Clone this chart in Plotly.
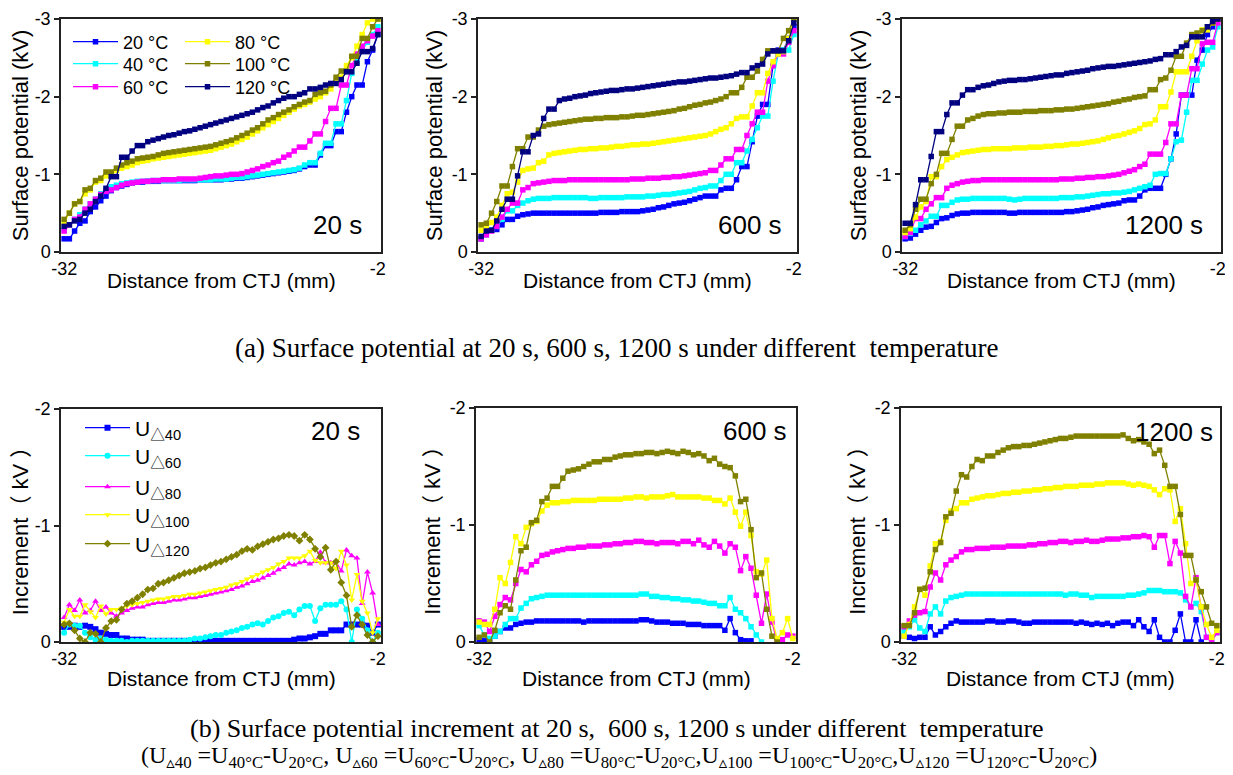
import plotly.graph_objects as go

# The page puts the figure 8 px from the top-left corner of the 1233x775 window.
W, H = 1233, 775
OFF = 8
FIG_W, FIG_H = W - OFF, H - OFF

# ---------------- data ----------------
DIST_MM = [-32.0, -31.5, -31.0, -30.5, -30.0, -29.5, -29.0, -28.5, -28.0, -27.5,
           -27.0, -26.5, -26.0, -25.5, -25.0, -24.5, -24.0, -23.5, -23.0, -22.5,
           -22.0, -21.5, -21.0, -20.5, -20.0, -19.5, -19.0, -18.5, -18.0, -17.5,
           -17.0, -16.5, -16.0, -15.5, -15.0, -14.5, -14.0, -13.5, -13.0, -12.5,
           -12.0, -11.5, -11.0, -10.5, -10.0, -9.5, -9.0, -8.5, -8.0, -7.5,
           -7.0, -6.5, -6.0, -5.5, -5.0, -4.5, -4.0, -3.5, -3.0, -2.5,
           -2.0]

TEMP_LABELS = ["20 °C", "40 °C", "60 °C", "80 °C", "100 °C", "120 °C"]
TIME_LABELS = ["20 s", "600 s", "1200 s"]
X_TICK_VALS = [-32, -2]
X_TICK_TEXT = ["-32", "-2"]
SP_TICK_VALS = [0, -1, -2, -3]
SP_TICK_TEXT = ["0", "-1", "-2", "-3"]
INC_TICK_VALS = [0, -1, -2]
INC_TICK_TEXT = ["0", "-1", "-2"]
INC_LABELS = ["U<sub>△40</sub>", "U<sub>△60</sub>", "U<sub>△80</sub>",
              "U<sub>△100</sub>", "U<sub>△120</sub>"]
X_TITLE = "Distance from CTJ (mm)"
SP_Y_TITLE = "Surface potential (kV)"
INC_Y_TITLE = "Increment（ kV ）"

# Surface potential (kV), 20 s
SP20_T20 = [-0.17, -0.17, -0.27, -0.37, -0.40, -0.52, -0.58, -0.66, -0.72, -0.79,
            -0.83, -0.85, -0.87, -0.89, -0.90, -0.90, -0.91, -0.91, -0.91, -0.92,
            -0.92, -0.92, -0.92, -0.92, -0.92, -0.92, -0.93, -0.93, -0.93, -0.93,
            -0.93, -0.94, -0.94, -0.95, -0.95, -0.96, -0.97, -0.98, -0.99, -1.00,
            -1.01, -1.02, -1.03, -1.04, -1.05, -1.07, -1.10, -1.12, -1.12, -1.25,
            -1.37, -1.37, -1.55, -1.55, -1.80, -2.00, -2.15, -2.15, -2.45, -2.60,
            -2.80]
SP20_T40 = [-0.28, -0.35, -0.42, -0.48, -0.55, -0.62, -0.68, -0.75, -0.80, -0.84,
            -0.86, -0.88, -0.89, -0.90, -0.91, -0.91, -0.91, -0.92, -0.92, -0.92,
            -0.92, -0.92, -0.92, -0.93, -0.93, -0.93, -0.93, -0.93, -0.93, -0.94,
            -0.94, -0.94, -0.95, -0.96, -0.96, -0.97, -0.98, -0.99, -1.00, -1.01,
            -1.02, -1.03, -1.04, -1.05, -1.06, -1.08, -1.12, -1.15, -1.15, -1.27,
            -1.40, -1.40, -1.65, -1.65, -1.95, -2.30, -2.45, -2.60, -2.70, -2.80,
            -2.90]
SP20_T60 = [-0.27, -0.35, -0.42, -0.45, -0.55, -0.62, -0.68, -0.74, -0.78, -0.80,
            -0.83, -0.86, -0.88, -0.89, -0.90, -0.91, -0.91, -0.92, -0.92, -0.93,
            -0.93, -0.93, -0.94, -0.94, -0.94, -0.94, -0.95, -0.96, -0.97, -0.98,
            -0.98, -0.99, -1.00, -1.00, -1.01, -1.03, -1.05, -1.07, -1.10, -1.12,
            -1.15, -1.17, -1.22, -1.25, -1.30, -1.35, -1.35, -1.43, -1.52, -1.52,
            -1.68, -1.85, -1.85, -2.15, -2.15, -2.40, -2.55, -2.65, -2.72, -2.78,
            -2.85]
SP20_T80 = [-0.38, -0.50, -0.62, -0.65, -0.75, -0.80, -0.90, -0.92, -0.98, -1.02,
            -1.05, -1.08, -1.10, -1.12, -1.15, -1.17, -1.18, -1.20, -1.21, -1.22,
            -1.23, -1.24, -1.25, -1.26, -1.27, -1.28, -1.29, -1.30, -1.31, -1.33,
            -1.35, -1.37, -1.39, -1.42, -1.45, -1.48, -1.52, -1.56, -1.60, -1.64,
            -1.68, -1.72, -1.76, -1.80, -1.84, -1.88, -1.90, -1.93, -1.97, -2.00,
            -2.05, -2.10, -2.18, -2.25, -2.40, -2.50, -2.65, -2.80, -2.95, -3.00,
            -3.00]
SP20_T100 = [-0.42, -0.50, -0.62, -0.65, -0.80, -0.82, -0.92, -0.95, -1.03, -1.03,
             -1.08, -1.12, -1.15, -1.17, -1.20, -1.21, -1.22, -1.23, -1.25, -1.27,
             -1.28, -1.29, -1.30, -1.31, -1.32, -1.33, -1.34, -1.35, -1.36, -1.38,
             -1.40, -1.42, -1.44, -1.47, -1.50, -1.53, -1.57, -1.60, -1.65, -1.70,
             -1.73, -1.77, -1.80, -1.83, -1.87, -1.90, -1.93, -1.95, -2.03, -2.05,
             -2.07, -2.15, -2.25, -2.33, -2.33, -2.52, -2.52, -2.75, -2.75, -2.90,
             -3.00]
SP20_T120 = [-0.33, -0.35, -0.40, -0.42, -0.50, -0.55, -0.65, -0.72, -0.82, -0.97,
             -0.97, -1.22, -1.22, -1.30, -1.37, -1.37, -1.42, -1.44, -1.46, -1.48,
             -1.50, -1.51, -1.53, -1.55, -1.56, -1.58, -1.60, -1.62, -1.64, -1.66,
             -1.68, -1.70, -1.72, -1.74, -1.76, -1.78, -1.80, -1.83, -1.86, -1.88,
             -1.92, -1.95, -1.98, -2.00, -2.00, -2.03, -2.05, -2.10, -2.10, -2.12,
             -2.15, -2.17, -2.17, -2.22, -2.32, -2.32, -2.43, -2.58, -2.58, -2.62,
             -2.80]

# Surface potential (kV), 600 s
SP600_T20 = [-0.17, -0.25, -0.28, -0.29, -0.35, -0.42, -0.42, -0.46, -0.48, -0.49,
             -0.50, -0.50, -0.50, -0.50, -0.50, -0.50, -0.50, -0.50, -0.50, -0.50,
             -0.50, -0.50, -0.50, -0.51, -0.51, -0.51, -0.51, -0.52, -0.52, -0.52,
             -0.52, -0.53, -0.54, -0.55, -0.57, -0.58, -0.60, -0.62, -0.63, -0.64,
             -0.66, -0.68, -0.70, -0.72, -0.72, -0.72, -0.80, -0.82, -0.82, -0.93,
             -1.10, -1.10, -1.42, -1.75, -1.90, -1.90, -2.40, -2.60, -2.60, -2.75,
             -2.90]
SP600_T40 = [-0.18, -0.22, -0.28, -0.33, -0.42, -0.53, -0.53, -0.60, -0.63, -0.66,
             -0.68, -0.69, -0.69, -0.69, -0.70, -0.70, -0.70, -0.70, -0.70, -0.70,
             -0.70, -0.69, -0.69, -0.70, -0.70, -0.70, -0.70, -0.70, -0.71, -0.71,
             -0.71, -0.71, -0.72, -0.72, -0.73, -0.74, -0.74, -0.75, -0.76, -0.77,
             -0.78, -0.80, -0.82, -0.83, -0.85, -0.85, -0.92, -1.00, -1.00, -1.15,
             -1.15, -1.30, -1.45, -1.60, -1.75, -1.75, -2.20, -2.55, -2.60, -2.60,
             -2.80]
SP600_T60 = [-0.17, -0.22, -0.27, -0.33, -0.45, -0.55, -0.63, -0.63, -0.80, -0.83,
             -0.88, -0.89, -0.90, -0.91, -0.92, -0.92, -0.92, -0.93, -0.93, -0.93,
             -0.93, -0.93, -0.93, -0.93, -0.93, -0.93, -0.93, -0.93, -0.93, -0.94,
             -0.94, -0.94, -0.95, -0.95, -0.95, -0.96, -0.96, -0.97, -0.97, -0.98,
             -0.99, -1.00, -1.01, -1.02, -1.05, -1.05, -1.12, -1.20, -1.20, -1.32,
             -1.32, -1.50, -1.65, -1.80, -1.80, -2.20, -2.40, -2.55, -2.55, -2.70,
             -2.85]
SP600_T80 = [-0.28, -0.33, -0.38, -0.45, -0.60, -0.75, -0.77, -0.90, -1.05, -1.07,
             -1.08, -1.15, -1.17, -1.25, -1.27, -1.28, -1.29, -1.30, -1.31, -1.32,
             -1.32, -1.33, -1.33, -1.34, -1.34, -1.35, -1.36, -1.36, -1.37, -1.38,
             -1.38, -1.39, -1.39, -1.40, -1.41, -1.42, -1.43, -1.44, -1.45, -1.46,
             -1.47, -1.48, -1.49, -1.50, -1.52, -1.55, -1.58, -1.60, -1.65, -1.72,
             -1.74, -1.74, -1.88, -2.05, -2.05, -2.30, -2.45, -2.55, -2.58, -2.75,
             -3.00]
SP600_T100 = [-0.35, -0.37, -0.50, -0.65, -0.85, -0.85, -1.10, -1.33, -1.33, -1.48,
              -1.48, -1.57, -1.62, -1.64, -1.65, -1.66, -1.67, -1.68, -1.69, -1.70,
              -1.71, -1.71, -1.72, -1.72, -1.73, -1.73, -1.73, -1.74, -1.74, -1.75,
              -1.76, -1.76, -1.77, -1.78, -1.79, -1.80, -1.81, -1.82, -1.84, -1.85,
              -1.87, -1.89, -1.90, -1.92, -1.93, -1.95, -1.97, -2.00, -2.05, -2.05,
              -2.12, -2.25, -2.25, -2.33, -2.48, -2.59, -2.59, -2.59, -2.75, -2.85,
              -3.00]
SP600_T120 = [-0.20, -0.27, -0.28, -0.40, -0.55, -0.68, -0.68, -0.98, -1.29, -1.29,
              -1.50, -1.52, -1.72, -1.84, -1.84, -1.95, -1.97, -1.98, -2.00, -2.01,
              -2.02, -2.04, -2.05, -2.06, -2.07, -2.08, -2.08, -2.09, -2.10, -2.10,
              -2.11, -2.12, -2.13, -2.14, -2.15, -2.16, -2.17, -2.18, -2.19, -2.19,
              -2.20, -2.21, -2.22, -2.23, -2.24, -2.24, -2.25, -2.26, -2.27, -2.29,
              -2.31, -2.31, -2.37, -2.40, -2.42, -2.55, -2.59, -2.59, -2.59, -2.72,
              -2.95]

# Surface potential (kV), 1200 s
SP1200_T20 = [-0.17, -0.18, -0.23, -0.28, -0.32, -0.33, -0.38, -0.43, -0.44, -0.47,
              -0.49, -0.50, -0.50, -0.51, -0.51, -0.51, -0.51, -0.51, -0.51, -0.51,
              -0.50, -0.50, -0.51, -0.51, -0.51, -0.51, -0.51, -0.51, -0.51, -0.51,
              -0.51, -0.52, -0.52, -0.53, -0.54, -0.55, -0.57, -0.58, -0.60, -0.61,
              -0.62, -0.63, -0.66, -0.67, -0.67, -0.72, -0.80, -0.82, -0.82, -0.82,
              -1.00, -1.20, -1.52, -2.02, -2.02, -2.02, -2.47, -2.60, -2.80, -2.90,
              -3.00]
SP1200_T40 = [-0.20, -0.24, -0.28, -0.35, -0.40, -0.46, -0.46, -0.60, -0.60, -0.64,
              -0.67, -0.68, -0.68, -0.69, -0.69, -0.69, -0.69, -0.69, -0.69, -0.69,
              -0.68, -0.67, -0.68, -0.69, -0.69, -0.69, -0.69, -0.69, -0.69, -0.69,
              -0.70, -0.70, -0.70, -0.71, -0.71, -0.72, -0.73, -0.74, -0.75, -0.75,
              -0.76, -0.76, -0.77, -0.78, -0.80, -0.82, -0.84, -0.86, -1.00, -1.01,
              -1.01, -1.20, -1.42, -1.44, -1.80, -2.21, -2.21, -2.42, -2.60, -2.64,
              -2.90]
SP1200_T60 = [-0.20, -0.25, -0.43, -0.43, -0.55, -0.62, -0.70, -0.70, -0.82, -0.86,
              -0.88, -0.90, -0.91, -0.92, -0.92, -0.93, -0.93, -0.93, -0.93, -0.93,
              -0.93, -0.93, -0.93, -0.93, -0.93, -0.93, -0.93, -0.93, -0.93, -0.93,
              -0.94, -0.94, -0.94, -0.95, -0.95, -0.96, -0.96, -0.97, -0.97, -0.98,
              -0.99, -1.00, -1.02, -1.04, -1.06, -1.10, -1.13, -1.26, -1.26, -1.26,
              -1.41, -1.65, -1.65, -2.02, -2.02, -2.36, -2.36, -2.68, -2.70, -2.70,
              -2.95]
SP1200_T80 = [-0.25, -0.30, -0.45, -0.58, -0.65, -0.97, -0.97, -1.10, -1.19, -1.22,
              -1.25, -1.28, -1.29, -1.30, -1.31, -1.32, -1.32, -1.33, -1.33, -1.33,
              -1.33, -1.34, -1.34, -1.34, -1.35, -1.35, -1.35, -1.36, -1.36, -1.37,
              -1.37, -1.38, -1.39, -1.39, -1.40, -1.41, -1.42, -1.43, -1.45, -1.47,
              -1.49, -1.50, -1.52, -1.54, -1.56, -1.59, -1.64, -1.65, -1.70, -1.87,
              -1.87, -2.06, -2.32, -2.32, -2.32, -2.52, -2.72, -2.86, -2.86, -2.95,
              -3.00]
SP1200_T100 = [-0.28, -0.35, -0.55, -0.68, -0.68, -0.88, -1.00, -1.27, -1.27, -1.45,
               -1.62, -1.62, -1.70, -1.72, -1.75, -1.77, -1.78, -1.78, -1.79, -1.79,
               -1.80, -1.80, -1.80, -1.81, -1.81, -1.81, -1.82, -1.82, -1.82, -1.83,
               -1.83, -1.84, -1.84, -1.85, -1.86, -1.87, -1.88, -1.89, -1.90, -1.91,
               -1.93, -1.94, -1.96, -1.97, -1.99, -2.00, -2.01, -2.09, -2.09, -2.22,
               -2.24, -2.34, -2.52, -2.52, -2.69, -2.80, -2.82, -2.85, -2.90, -2.95,
               -3.00]
SP1200_T120 = [-0.37, -0.37, -0.61, -0.93, -0.93, -1.23, -1.55, -1.55, -1.77, -1.92,
               -1.92, -2.02, -2.09, -2.09, -2.12, -2.14, -2.15, -2.17, -2.19, -2.20,
               -2.21, -2.21, -2.22, -2.22, -2.23, -2.24, -2.25, -2.26, -2.27, -2.28,
               -2.28, -2.30, -2.31, -2.32, -2.33, -2.34, -2.36, -2.37, -2.38, -2.39,
               -2.39, -2.40, -2.41, -2.42, -2.43, -2.44, -2.45, -2.46, -2.48, -2.49,
               -2.54, -2.54, -2.58, -2.64, -2.66, -2.77, -2.77, -2.77, -2.90, -2.97,
               -3.00]

# Increment (kV), 20 s
INC20_D40 = [-0.13, -0.13, -0.14, -0.13, -0.14, -0.13, -0.11, -0.08, -0.07, -0.06,
             -0.06, -0.03, -0.03, -0.02, -0.02, -0.02, -0.01, -0.01, -0.01, -0.01,
             -0.01, -0.01, -0.01, -0.01, 0.00, -0.01, -0.01, -0.01, -0.01, -0.01,
             -0.01, -0.01, -0.01, -0.01, -0.01, -0.01, -0.01, -0.01, -0.01, -0.01,
             -0.01, -0.01, -0.01, -0.01, -0.02, -0.03, -0.03, -0.04, -0.05, -0.07,
             -0.07, -0.10, -0.10, -0.10, -0.15, -0.15, -0.15, -0.15, -0.14, -0.08,
             -0.15]
INC20_D60 = [-0.08, -0.15, -0.14, -0.14, -0.08, -0.04, -0.02, -0.03, -0.02, -0.01,
             -0.01, -0.01, 0.00, -0.01, -0.01, -0.01, -0.01, -0.01, -0.01, -0.01,
             -0.01, -0.01, -0.01, -0.01, -0.02, -0.03, -0.03, -0.04, -0.05, -0.06,
             -0.06, -0.08, -0.09, -0.10, -0.12, -0.13, -0.15, -0.16, -0.15, -0.18,
             -0.21, -0.22, -0.25, -0.26, -0.23, -0.28, -0.31, -0.31, -0.18, -0.29,
             -0.32, -0.32, -0.32, -0.35, -0.28, 0.00, -0.28, -0.20, -0.10, 0.00,
             -0.08]
INC20_D80 = [-0.21, -0.32, -0.27, -0.36, -0.25, -0.27, -0.35, -0.27, -0.30, -0.25,
             -0.22, -0.25, -0.27, -0.29, -0.30, -0.30, -0.32, -0.33, -0.34, -0.34,
             -0.35, -0.36, -0.36, -0.37, -0.38, -0.38, -0.39, -0.40, -0.41, -0.42,
             -0.43, -0.44, -0.45, -0.47, -0.48, -0.50, -0.52, -0.53, -0.55, -0.57,
             -0.59, -0.62, -0.64, -0.67, -0.66, -0.68, -0.69, -0.67, -0.69, -0.77,
             -0.68, -0.68, -0.69, -0.61, -0.79, -0.74, -0.72, -0.33, -0.60, -0.42,
             -0.15]
INC20_D100 = [-0.17, -0.28, -0.22, -0.22, -0.32, -0.26, -0.21, -0.31, -0.24, -0.28,
              -0.28, -0.29, -0.31, -0.32, -0.33, -0.34, -0.35, -0.36, -0.37, -0.37,
              -0.38, -0.39, -0.39, -0.40, -0.41, -0.41, -0.42, -0.43, -0.44, -0.45,
              -0.46, -0.47, -0.49, -0.50, -0.52, -0.54, -0.56, -0.58, -0.60, -0.62,
              -0.64, -0.67, -0.69, -0.72, -0.72, -0.72, -0.74, -0.78, -0.70, -0.68,
              -0.68, -0.68, -0.63, -0.78, -0.66, -0.36, -0.58, -0.35, -0.25, -0.08,
              -0.20]
INC20_D120 = [-0.15, -0.16, -0.10, -0.03, 0.00, -0.08, -0.07, 0.00, -0.12, -0.18,
              -0.19, -0.28, -0.33, -0.35, -0.38, -0.41, -0.45, -0.46, -0.50, -0.51,
              -0.53, -0.55, -0.57, -0.59, -0.60, -0.61, -0.63, -0.64, -0.66, -0.68,
              -0.69, -0.71, -0.73, -0.75, -0.78, -0.80, -0.79, -0.82, -0.84, -0.86,
              -0.88, -0.89, -0.91, -0.92, -0.91, -0.87, -0.92, -0.88, -0.80, -0.73,
              -0.81, -0.62, -0.69, -0.51, -0.40, -0.13, -0.23, -0.15, -0.06, 0.00,
              -0.05]

# Increment (kV), 600 s
INC600_D40 = [-0.02, -0.01, -0.02, -0.05, -0.09, -0.12, -0.12, -0.15, -0.16, -0.17,
              -0.17, -0.18, -0.18, -0.18, -0.18, -0.18, -0.18, -0.18, -0.18, -0.18,
              -0.17, -0.18, -0.18, -0.18, -0.18, -0.18, -0.18, -0.18, -0.18, -0.18,
              -0.18, -0.19, -0.19, -0.18, -0.17, -0.17, -0.17, -0.16, -0.16, -0.16,
              -0.15, -0.15, -0.15, -0.14, -0.14, -0.14, -0.14, -0.10, -0.20, -0.08,
              -0.02, -0.01, -0.01, None, None, None, None, None, None, None,
              None]
INC600_D60 = [-0.14, -0.06, -0.03, -0.05, -0.09, -0.15, -0.20, -0.20, -0.29, -0.33,
              -0.37, -0.38, -0.39, -0.40, -0.40, -0.40, -0.40, -0.40, -0.40, -0.40,
              -0.40, -0.40, -0.40, -0.40, -0.40, -0.40, -0.40, -0.40, -0.40, -0.40,
              -0.40, -0.41, -0.41, -0.39, -0.39, -0.38, -0.38, -0.37, -0.37, -0.36,
              -0.36, -0.35, -0.35, -0.34, -0.33, -0.33, -0.31, -0.31, -0.38, -0.28,
              -0.25, -0.20, -0.13, -0.06, 0.00, None, None, None, None, None,
              None]
INC600_D80 = [-0.18, -0.17, -0.09, -0.22, -0.32, -0.38, -0.36, -0.50, -0.62, -0.60,
              -0.66, -0.69, -0.74, -0.75, -0.77, -0.78, -0.79, -0.80, -0.80, -0.81,
              -0.81, -0.82, -0.82, -0.82, -0.83, -0.83, -0.84, -0.84, -0.85, -0.85,
              -0.86, -0.86, -0.85, -0.85, -0.84, -0.85, -0.85, -0.85, -0.84, -0.86,
              -0.86, -0.84, -0.87, -0.83, -0.81, -0.86, -0.82, -0.76, -0.84, -0.81,
              -0.61, -0.73, -0.63, -0.40, -0.16, -0.41, -0.17, 0.00, -0.02, -0.06,
              -0.05]
INC600_D100 = [-0.17, -0.15, -0.15, -0.28, -0.55, -0.50, -0.68, -0.90, -0.84, -0.98,
               -1.01, -1.03, -1.12, -1.17, -1.19, -1.19, -1.20, -1.20, -1.21, -1.21,
               -1.21, -1.21, -1.21, -1.22, -1.22, -1.22, -1.22, -1.22, -1.23, -1.23,
               -1.24, -1.24, -1.23, -1.24, -1.24, -1.24, -1.25, -1.26, -1.24, -1.24,
               -1.24, -1.24, -1.24, -1.23, -1.23, -1.21, -1.21, -1.18, -1.23, -1.11,
               -0.99, -1.11, -0.91, -0.60, -0.58, -0.70, -0.20, -0.03, -0.08, -0.20,
               -0.03]
INC600_D120 = [-0.04, -0.06, 0.00, -0.10, -0.25, -0.31, -0.28, -0.53, -0.78, -0.81,
               -1.02, -1.04, -1.20, -1.23, -1.33, -1.33, -1.40, -1.46, -1.47, -1.48,
               -1.50, -1.52, -1.54, -1.54, -1.56, -1.56, -1.58, -1.59, -1.60, -1.60,
               -1.61, -1.61, -1.62, -1.62, -1.61, -1.62, -1.63, -1.62, -1.61, -1.63,
               -1.62, -1.60, -1.61, -1.59, -1.55, -1.57, -1.52, -1.50, -1.49, -1.42,
               -1.20, -1.22, -0.96, -0.55, -0.59, -0.28, -0.05, 0.00, None, None,
               None]

# Increment (kV), 1200 s
INC1200_D40 = [-0.05, -0.04, -0.03, -0.04, -0.04, -0.13, -0.06, -0.09, -0.13, -0.16,
               -0.18, -0.17, -0.17, -0.17, -0.17, -0.17, -0.18, -0.18, -0.17, -0.17,
               -0.18, -0.18, -0.17, -0.16, -0.16, -0.17, -0.17, -0.17, -0.17, -0.17,
               -0.17, -0.17, -0.17, -0.16, -0.17, -0.16, -0.15, -0.16, -0.15, -0.16,
               -0.14, -0.16, -0.17, -0.17, -0.14, -0.19, -0.13, -0.09, -0.19, -0.04,
               0.00, 0.00, -0.10, -0.24, 0.00, 0.00, -0.19, 0.00, None, None,
               None]
INC1200_D60 = [-0.09, -0.13, -0.19, -0.12, -0.09, -0.24, -0.30, -0.24, -0.35, -0.38,
               -0.39, -0.40, -0.41, -0.41, -0.41, -0.41, -0.41, -0.41, -0.41, -0.41,
               -0.41, -0.41, -0.41, -0.41, -0.41, -0.41, -0.41, -0.41, -0.41, -0.41,
               -0.41, -0.40, -0.41, -0.41, -0.40, -0.40, -0.38, -0.39, -0.39, -0.39,
               -0.39, -0.39, -0.39, -0.40, -0.40, -0.41, -0.42, -0.44, -0.44, -0.44,
               -0.43, -0.43, -0.43, -0.42, -0.36, -0.30, -0.33, -0.26, -0.04, 0.00,
               -0.08]
INC1200_D80 = [-0.13, -0.18, -0.23, -0.25, -0.26, -0.47, -0.59, -0.53, -0.66, -0.70,
               -0.73, -0.77, -0.79, -0.79, -0.80, -0.80, -0.80, -0.81, -0.81, -0.81,
               -0.82, -0.82, -0.82, -0.82, -0.83, -0.83, -0.84, -0.84, -0.85, -0.85,
               -0.86, -0.86, -0.85, -0.86, -0.86, -0.87, -0.86, -0.86, -0.87, -0.88,
               -0.88, -0.88, -0.89, -0.89, -0.90, -0.90, -0.91, -0.90, -0.81, -0.91,
               -0.91, -0.67, -0.86, -0.76, -0.39, -0.30, -0.55, -0.30, -0.04, 0.00,
               -0.08]
INC1200_D100 = [-0.05, -0.15, -0.30, -0.45, -0.40, -0.65, -0.84, -0.86, -1.04, -1.12,
                -1.14, -1.19, -1.19, -1.22, -1.23, -1.24, -1.25, -1.25, -1.26, -1.27,
                -1.27, -1.28, -1.28, -1.29, -1.29, -1.30, -1.30, -1.31, -1.31, -1.32,
                -1.32, -1.33, -1.33, -1.33, -1.34, -1.34, -1.34, -1.35, -1.35, -1.36,
                -1.36, -1.36, -1.36, -1.35, -1.34, -1.35, -1.34, -1.33, -1.30, -1.26,
                -1.31, -1.30, -1.03, -1.14, -0.84, -0.50, -0.53, -0.30, -0.15, -0.04,
                -0.10]
INC1200_D120 = [-0.14, -0.14, -0.25, -0.45, -0.46, -0.60, -0.79, -0.85, -1.07, -1.10,
                -1.29, -1.43, -1.41, -1.50, -1.56, -1.55, -1.59, -1.59, -1.62, -1.64,
                -1.66, -1.67, -1.67, -1.68, -1.68, -1.69, -1.70, -1.71, -1.72, -1.73,
                -1.74, -1.74, -1.75, -1.76, -1.76, -1.76, -1.76, -1.76, -1.76, -1.76,
                -1.76, -1.76, -1.77, -1.74, -1.72, -1.73, -1.71, -1.69, -1.61, -1.64,
                -1.51, -1.33, -1.33, -1.09, -0.74, -0.74, -0.53, -0.43, -0.30, -0.16,
                -0.14]

SP_SERIES = [
    [SP20_T20, SP20_T40, SP20_T60, SP20_T80, SP20_T100, SP20_T120],
    [SP600_T20, SP600_T40, SP600_T60, SP600_T80, SP600_T100, SP600_T120],
    [SP1200_T20, SP1200_T40, SP1200_T60, SP1200_T80, SP1200_T100, SP1200_T120],
]
INC_SERIES = [
    [INC20_D40, INC20_D60, INC20_D80, INC20_D100, INC20_D120],
    [INC600_D40, INC600_D60, INC600_D80, INC600_D100, INC600_D120],
    [INC1200_D40, INC1200_D60, INC1200_D80, INC1200_D100, INC1200_D120],
]

# ---------------- style ----------------
TEMP_COLORS = ["#0000FF", "#00FFFF", "#FF00FF", "#FFFF00", "#808000", "#000080"]
INC_COLORS = ["#0000FF", "#00FFFF", "#FF00FF", "#FFFF00", "#808000"]
INC20_SYMBOLS = ["square", "circle", "triangle-up", "triangle-down", "diamond"]
SANS = "Liberation Sans, Arial, Noto Sans CJK SC, sans-serif"
SERIF = "Liberation Serif, Times New Roman, DejaVu Serif, serif"
AXC = "#222222"
NB = "\u00a0"

# panel boxes in window pixels: (left, top, right, bottom)
TOP_BOXES = [(61, 19, 381, 252), (478, 19, 797, 252), (902, 19, 1221, 252)]
BOT_BOXES = [(61, 409, 381, 642), (476, 408, 796, 642), (901, 408, 1220, 642)]
# legend entries: symbol start x, row centre y (window pixels)
TOP_LEG_POS = [(73, 42), (73, 64), (73, 87), (185, 42), (185, 64), (185, 87)]
BOT_LEG_POS = [(85, 428), (85, 456), (85, 487), (85, 515), (85, 544)]
LEG_DX = 5


def xp(px):
    return (px - OFF) / FIG_W


def yp(py):
    return 1 - (py - OFF) / FIG_H


def dom_x(b):
    return [xp(b[0]), xp(b[2])]


def dom_y(b):
    return [yp(b[3]), yp(b[1])]


def legend_name(i):
    return "legend" if i == 1 else "legend%d" % i


fig = go.Figure()

# top row
for p in range(3):
    ax = "" if p == 0 else str(p + 1)
    for k, ys in enumerate(SP_SERIES[p]):
        fig.add_trace(go.Scatter(
            x=DIST_MM[:len(ys)], y=ys, mode="lines+markers",
            name=TEMP_LABELS[k], legend=legend_name(k + 1), showlegend=(p == 0),
            line=dict(color=TEMP_COLORS[k], width=1.3),
            marker=dict(symbol="square", size=5.5, color=TEMP_COLORS[k]),
            xaxis="x" + ax, yaxis="y" + ax))

# bottom row
for p in range(3):
    ax = str(p + 4)
    for k, ys in enumerate(INC_SERIES[p]):
        sym = INC20_SYMBOLS[k] if p == 0 else "square"
        fig.add_trace(go.Scatter(
            x=DIST_MM[:len(ys)], y=ys, mode="lines+markers",
            name=INC_LABELS[k], legend=legend_name(k + 7), showlegend=(p == 0),
            line=dict(color=INC_COLORS[k], width=1.3),
            marker=dict(symbol=sym, size=6 if p == 0 else 5.5, color=INC_COLORS[k]),
            xaxis="x" + ax, yaxis="y" + ax))

layout = dict(
    width=FIG_W, height=FIG_H, margin=dict(l=0, r=0, t=0, b=0, pad=0),
    paper_bgcolor="white", plot_bgcolor="white",
    font=dict(family=SANS, color="#000000"),
)


def xaxis_cfg(box, anchor):
    return dict(domain=dom_x(box), anchor=anchor, range=[-32.3, -1.7], automargin=False,
                tickmode="array", tickvals=X_TICK_VALS, ticktext=X_TICK_TEXT,
                ticks="", showgrid=False, zeroline=False,
                showline=True, mirror=True, linecolor=AXC, linewidth=1.5,
                tickfont=dict(size=18, family=SANS, color="#000"))


def yaxis_cfg(box, anchor, rng, tv, tt, title):
    return dict(domain=dom_y(box), anchor=anchor, range=rng, automargin=False,
                tickmode="array", tickvals=tv, ticktext=tt,
                ticks="outside", ticklen=5, tickwidth=1.5, tickcolor=AXC,
                showgrid=False, zeroline=False,
                showline=True, mirror=True, linecolor=AXC, linewidth=1.5,
                tickfont=dict(size=18, family=SANS, color="#000"),
                title=dict(text=title, standoff=3,
                           font=dict(size=22, family=SANS, color="#000")))


for p in range(3):
    n = "" if p == 0 else str(p + 1)
    layout["xaxis" + n] = xaxis_cfg(TOP_BOXES[p], "y" + n)
    layout["yaxis" + n] = yaxis_cfg(TOP_BOXES[p], "x" + n, [0, -3],
                                    SP_TICK_VALS, SP_TICK_TEXT, SP_Y_TITLE)
for p in range(3):
    n = str(p + 4)
    layout["xaxis" + n] = xaxis_cfg(BOT_BOXES[p], "y" + n)
    layout["yaxis" + n] = yaxis_cfg(BOT_BOXES[p], "x" + n, [0, -2],
                                    INC_TICK_VALS, INC_TICK_TEXT, INC_Y_TITLE)

legend_common = dict(xanchor="left", yanchor="middle", bgcolor="rgba(0,0,0,0)",
                     borderwidth=0, itemwidth=45)
for i, (sx, sy) in enumerate(TOP_LEG_POS + BOT_LEG_POS):
    size = 18 if i < 6 else 21
    layout[legend_name(i + 1)] = dict(legend_common, x=xp(sx - LEG_DX), y=yp(sy),
                                      font=dict(size=size, family=SANS, color="#000"))

annotations = []
# x-axis titles
for box, ty in [(b, 280) for b in TOP_BOXES] + [(b, 678) for b in BOT_BOXES]:
    annotations.append(dict(x=xp((box[0] + box[2]) / 2), y=yp(ty), xref="paper", yref="paper",
                            text=X_TITLE, showarrow=False, xanchor="center", yanchor="middle",
                            font=dict(size=21, family=SANS, color="#000")))
# time labels
time_pos_top = [(337, 225), (750, 225), (1164, 225)]
time_pos_bot = [(335, 431), (755, 431), (1174, 432)]
for (px, py), lab in zip(time_pos_top + time_pos_bot, TIME_LABELS + TIME_LABELS):
    annotations.append(dict(x=xp(px), y=yp(py), xref="paper", yref="paper",
                            text=lab, showarrow=False, xanchor="center", yanchor="middle",
                            font=dict(size=26, family=SANS, color="#000")))

CAPTION_A = "(a) Surface potential at 20 s, 600 s, 1200 s under different" + NB + " temperature"
CAPTION_B = ("(b) Surface potential increment at 20 s," + NB + " 600 s, 1200 s under different"
             + NB + " temperature")
CAPTION_C = ("(U<sub>▵40</sub> =U<sub>40°C</sub>-U<sub>20°C</sub>, "
             "U<sub>▵60</sub> =U<sub>60°C</sub>-U<sub>20°C</sub>, "
             "U<sub>▵80</sub> =U<sub>80°C</sub>-U<sub>20°C</sub>,"
             "U<sub>▵100</sub> =U<sub>100°C</sub>-U<sub>20°C</sub>,"
             "U<sub>▵120</sub> =U<sub>120°C</sub>-U<sub>20°C</sub>)")
for txt, (px, py), fs in [(CAPTION_A, (617, 348), 27), (CAPTION_B, (617, 728), 26),
                          (CAPTION_C, (619, 757), 24)]:
    annotations.append(dict(x=xp(px), y=yp(py), xref="paper", yref="paper",
                            text=txt, showarrow=False, xanchor="center", yanchor="middle",
                            font=dict(size=fs, family=SERIF, color="#000")))

layout["annotations"] = annotations
fig.update_layout(**layout)
fig.write_html("out.html")
